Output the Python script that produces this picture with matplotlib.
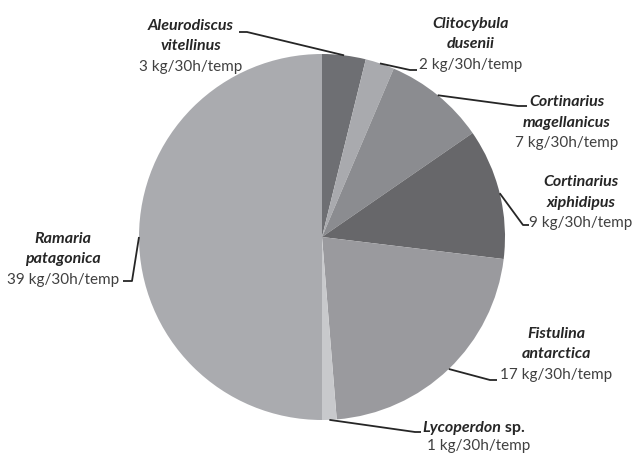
import numpy as np
import matplotlib.pyplot as plt

# data
names = [("Aleurodiscus", "vitellinus"), ("Clitocybula", "dusenii"),
         ("Cortinarius", "magellanicus"), ("Cortinarius", "xiphidipus"),
         ("Fistulina", "antarctica"), ("Lycoperdon",), ("Ramaria", "patagonica")]
values = [3, 2, 7, 9, 17, 1, 39]
unit = "kg/30h/temp"
colors = ["#6e6f73", "#a9aaae", "#8b8c90", "#67676a", "#9a9a9e", "#c8c9cc", "#aaabaf"]

W, H = 633, 457
cx, cy, R = 322, 237, 183

# label layout in pixels, y from top: text centre x, first baseline y
text_pos = [(191, 30), (471, 28), (567, 106), (581, 186), (556, 338), (479, 432), (63, 243)]
elbows = [(247, 32), (410, 70), (518, 106), (523, 225), (490, 380), (415, 432), (132, 281)]
ends = [(239, 32), (417, 70), (527, 106), (529, 225), (497, 380), (421, 432), (123, 281)]
gap = 20.5

fig = plt.figure(figsize=(W / 100, H / 100), dpi=100)
ax = fig.add_axes([0, 0, 1, 1])

wedges, _ = ax.pie(values, colors=colors, startangle=90, counterclock=False,
                   center=(cx, H - cy), radius=R, wedgeprops=dict(linewidth=0))
ax.set_xlim(0, W)
ax.set_ylim(0, H)
ax.set_aspect("equal")
ax.axis("off")

fam = ["Lato", "DejaVu Sans"]
fs_name = 11.5
fs_val = 11
for i, w in enumerate(wedges):
    mid = np.deg2rad((w.theta1 + w.theta2) / 2)
    sx = cx + R * np.cos(mid)
    sy = (H - cy) + R * np.sin(mid)
    ex, ey = elbows[i]
    tx, ty = ends[i]
    ax.plot([sx, ex, tx], [sy, H - ey, H - ty], color="#262626", lw=1.3,
            solid_capstyle="butt", zorder=3)

    x, y = text_pos[i]
    if len(names[i]) == 1:
        # "Lycoperdon sp." : italic genus + upright "sp."
        t = ax.text(tx + 1, H - y, names[i][0], ha="left", va="baseline",
                    fontsize=fs_name, fontweight="bold", style="italic",
                    color="#262626", family=fam)
        ax.annotate(" sp.", xycoords=t, xy=(1, 0), va="bottom", ha="left",
                    fontsize=fs_name, fontweight="bold", color="#262626", family=fam)
        ax.text(x, H - y - 18, f"{values[i]} {unit}", ha="center", va="baseline",
                fontsize=fs_val, color="#404040", family=fam)
        continue
    for k, line in enumerate(names[i]):
        ax.text(x, H - y - k * gap, line, ha="center", va="baseline", fontsize=fs_name,
                fontweight="bold", style="italic", color="#262626", family=fam)
    ax.text(x, H - y - 2 * gap, f"{values[i]} {unit}", ha="center", va="baseline",
            fontsize=fs_val, color="#404040", family=fam)

fig.savefig("out.png", dpi=100)
